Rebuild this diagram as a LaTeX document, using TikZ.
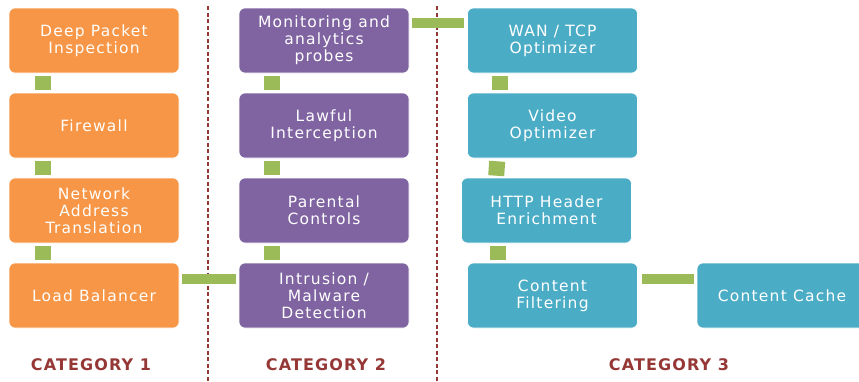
\documentclass[tikz,border=0pt]{standalone}
\usepackage{fontspec}
\setmainfont{DejaVu Sans}
\newfontfamily\boxfont[LetterSpace=8]{DejaVu Sans}
\newfontfamily\catfont[LetterSpace=7]{DejaVu Sans}
\definecolor{corange}{HTML}{F79646}
\definecolor{cpurple}{HTML}{8064A2}
\definecolor{cteal}{HTML}{4BACC6}
\definecolor{cgreen}{HTML}{9BBB59}
\definecolor{cred}{HTML}{953735}
\tikzset{
  box/.style={rounded corners=6pt, minimum width=170pt, minimum height=65pt,
    text=white, align=center, inner sep=0pt, draw=white, line width=0.6pt,
    font=\boxfont\fontsize{15.5}{17}\selectfont},
  obox/.style={box, fill=corange},
  pbox/.style={box, fill=cpurple},
  tbox/.style={box, fill=cteal},
  vconn/.style={draw=cgreen, line width=16pt},
  hconn/.style={draw=cgreen, line width=10pt},
  sep/.style={draw=cred, line width=1.3pt, dash pattern=on 4pt off 2.5pt},
  cat/.style={text=cred, font=\catfont\bfseries\fontsize{16}{18}\selectfont}
}
\begin{document}
\begin{tikzpicture}[x=1pt,y=-1pt]
\useasboundingbox (0,0) rectangle (859,381);
\clip (0,0) rectangle (859,381);
% separators
\draw[sep] (208,6) -- (208,381);
\draw[sep] (437,6) -- (437,381);
% category 1
\node[obox] (dpi) at (94,40.5) {Deep Packet\\Inspection};
\node[obox] (fw)  at (94,125.5) {Firewall};
\node[obox] (nat) at (94,210.5) {Network\\Address\\Translation};
\node[obox] (lb)  at (94,295.5) {Load Balancer};
% category 2
\node[pbox] (mon)  at (324,40.5) {Monitoring and\\analytics\\probes};
\node[pbox] (li)   at (324,125.5) {Lawful\\Interception};
\node[pbox] (pc)   at (324,210.5) {Parental\\Controls};
\node[pbox] (intr) at (324,295.5) {Intrusion /\\Malware\\Detection};
% category 3
\node[tbox] (wan)  at (552.5,40.5) {WAN / TCP\\Optimizer};
\node[tbox] (vid)  at (552.5,125.5) {Video\\Optimizer};
\node[tbox] (http) at (546.5,210.5) {HTTP Header\\Enrichment};
\node[tbox] (cf)   at (552.5,295.5) {Content\\Filtering};
\node[tbox] (cc)   at (782,295.5) {Content Cache};
% vertical connectors
\draw[vconn] ([xshift=34pt,yshift=-3pt]dpi.south west) -- ([xshift=34pt,yshift=3pt]fw.north west);
\draw[vconn] ([xshift=34pt,yshift=-3pt]fw.south west) -- ([xshift=34pt,yshift=3pt]nat.north west);
\draw[vconn] ([xshift=34pt,yshift=-3pt]nat.south west) -- ([xshift=34pt,yshift=3pt]lb.north west);
\draw[vconn] ([xshift=33pt,yshift=-3pt]mon.south west) -- ([xshift=33pt,yshift=3pt]li.north west);
\draw[vconn] ([xshift=33pt,yshift=-3pt]li.south west) -- ([xshift=33pt,yshift=3pt]pc.north west);
\draw[vconn] ([xshift=33pt,yshift=-3pt]pc.south west) -- ([xshift=33pt,yshift=3pt]intr.north west);
\draw[vconn] ([xshift=33pt,yshift=-3pt]wan.south west) -- ([xshift=33pt,yshift=3pt]vid.north west);
\draw[vconn] ([xshift=30pt,yshift=-3pt]vid.south west) -- ([xshift=35pt,yshift=2pt]http.north west);
\draw[vconn] ([xshift=37pt,yshift=-3pt]http.south west) -- ([xshift=31pt,yshift=3pt]cf.north west);
% horizontal connectors
\draw[hconn] ([xshift=3pt,yshift=16.5pt]lb.east) -- ([xshift=-3pt,yshift=16.5pt]intr.west);
\draw[hconn] ([xshift=3pt,yshift=17.5pt]mon.east) -- ([xshift=-3pt,yshift=17.5pt]wan.west);
\draw[hconn] ([xshift=4pt,yshift=16.5pt]cf.east) -- ([xshift=-3pt,yshift=16.5pt]cc.west);
% category labels
\node[cat] (c1) at (91,365) {CATEGORY 1};
\node[cat] (c2) at (326,365) {CATEGORY 2};
\node[cat] (c3) at (669,365) {CATEGORY 3};
\end{tikzpicture}
\end{document}
